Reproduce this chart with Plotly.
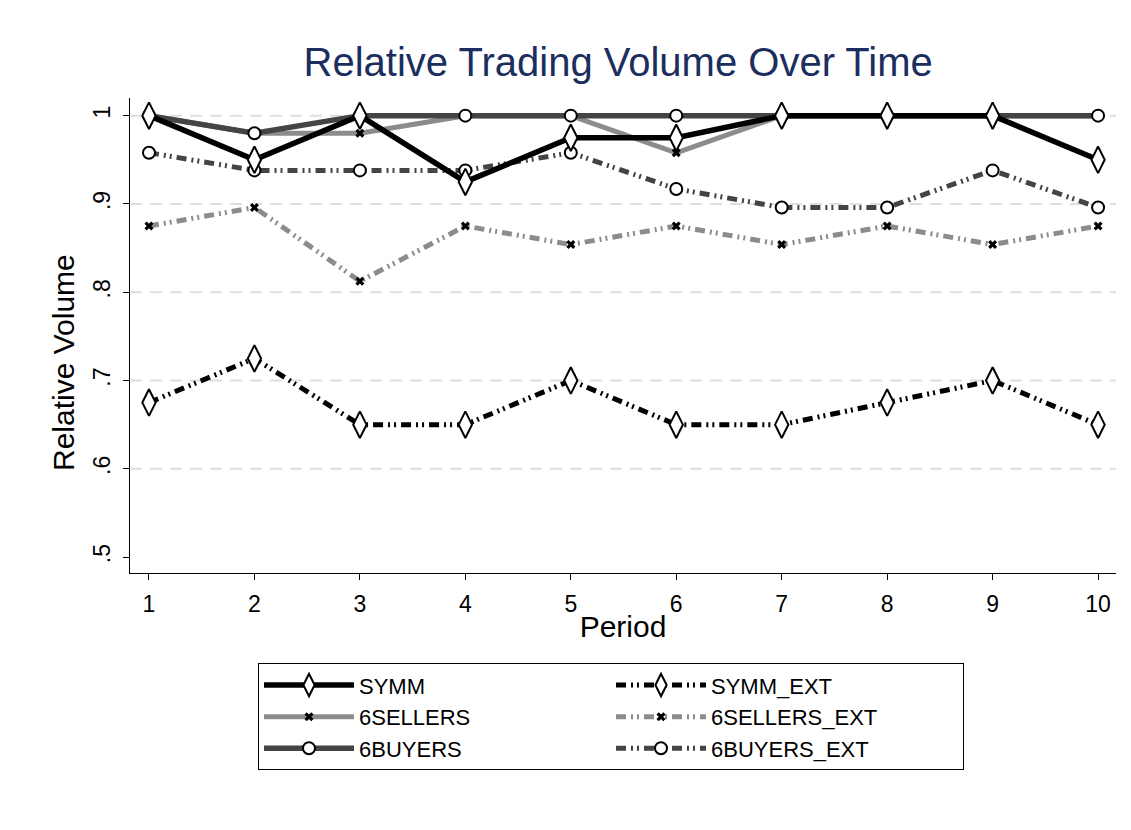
import plotly.graph_objects as go

periods = [1, 2, 3, 4, 5, 6, 7, 8, 9, 10]
symm = [1.0, 0.95, 1.0, 0.925, 0.975, 0.975, 1.0, 1.0, 1.0, 0.95]
sellers = [1.0, 0.98, 0.98, 1.0, 1.0, 0.958, 1.0, 1.0, 1.0, 1.0]
buyers = [1.0, 0.98, 1.0, 1.0, 1.0, 1.0, 1.0, 1.0, 1.0, 1.0]
symm_ext = [0.675, 0.725, 0.65, 0.65, 0.70, 0.65, 0.65, 0.675, 0.70, 0.65]
sellers_ext = [0.875, 0.896, 0.8125, 0.875, 0.854, 0.875, 0.854, 0.875, 0.854, 0.875]
buyers_ext = [0.958, 0.938, 0.938, 0.938, 0.958, 0.917, 0.896, 0.896, 0.938, 0.896]
y_ticks = [0.5, 0.6, 0.7, 0.8, 0.9, 1.0]
y_labels = [".5", ".6", ".7", ".8", ".9", "1"]

FONT = "Liberation Sans, Arial, sans-serif"
dashpat = "10px,5px,2px,4px,2px,5px"

diamond = dict(symbol="diamond-tall", size=19, color="white", line=dict(color="black", width=2))
circle = dict(symbol="circle", size=12, color="white", line=dict(color="black", width=2))
cross = dict(symbol="x", size=8, color="black", line=dict(color="black", width=0))

fig = go.Figure()
series = [
    ("SYMM_EXT", symm_ext, "black", dashpat, diamond, 5),
    ("6SELLERS_EXT", sellers_ext, "#8c8c8c", dashpat, cross, 5),
    ("6BUYERS_EXT", buyers_ext, "#444444", dashpat, circle, 5),
    ("6SELLERS", sellers, "#8c8c8c", "solid", cross, 5),
    ("6BUYERS", buyers, "#444444", "solid", circle, 5.5),
    ("SYMM", symm, "black", "solid", diamond, 5.5),
]
rank = {"SYMM": 1, "SYMM_EXT": 2, "6SELLERS": 3, "6SELLERS_EXT": 4, "6BUYERS": 5, "6BUYERS_EXT": 6}
for name, vals, col, dash, mk, w in series:
    fig.add_trace(go.Scatter(
        x=periods, y=vals, name=name, mode="lines+markers",
        line=dict(color=col, width=w, dash=dash),
        marker=mk, legendrank=rank[name],
    ))

fig.update_layout(
    width=1131, height=830,
    paper_bgcolor="white", plot_bgcolor="white",
    margin=dict(l=122, r=23, t=90, b=265),
    font=dict(family=FONT, size=20, color="black"),
    title=dict(text="Relative Trading Volume Over Time", x=0.5395, xanchor="center",
               y=0.935, yanchor="middle",
               font=dict(family=FONT, size=40, color="#1c2e5e")),
    showlegend=True,
    legend=dict(orientation="h", x=(250 - 122) / 986, xanchor="left", y=-0.19, yanchor="top",
                bordercolor="black", borderwidth=1, bgcolor="white",
                entrywidth=247, font=dict(size=22, family=FONT),
                traceorder="normal", itemwidth=90, tracegroupgap=4),
    xaxis=dict(range=[0.82, 10.17], tickmode="array", tickvals=periods,
               showgrid=False, zeroline=False, showline=True, linecolor="black",
               linewidth=1, ticks="outside", ticklen=6, tickcolor="black",
               tickfont=dict(size=23), ticklabelstandoff=4,
               title=dict(text="Period", font=dict(size=30), standoff=0)),
    yaxis=dict(range=[0.482, 1.02], tickmode="array", tickvals=y_ticks, ticktext=y_labels,
               tickangle=-90, showgrid=False, zeroline=False, showline=True,
               linecolor="black", linewidth=1, ticks="outside", ticklen=6,
               tickcolor="black", tickfont=dict(size=23), ticklabelstandoff=4),
    annotations=[dict(text="Relative Volume", textangle=-90, xref="paper", yref="paper",
                      x=(55 - 122) / 986, y=(565 - 355) / 475, xanchor="center", yanchor="middle",
                      showarrow=False, font=dict(size=30, family=FONT, color="black"))],
)
for g in y_ticks[1:]:
    fig.add_hline(y=g, line=dict(color="#dedede", width=2, dash="12px,8px"), layer="below")

fig.write_html("out.html")
